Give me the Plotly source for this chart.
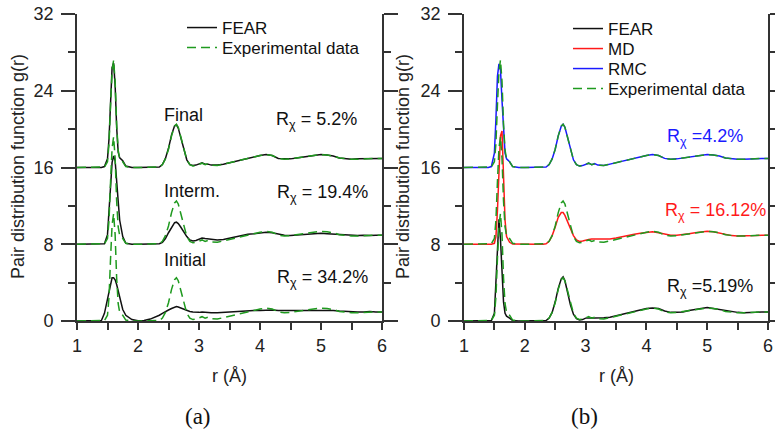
import plotly.graph_objects as go

# ---------------- data ----------------
R = [1.0, 1.40, 1.45, 1.50, 1.525, 1.55, 1.575, 1.60, 1.625, 1.65,
     1.675, 1.70, 1.75, 1.80, 1.90, 2.00, 2.10, 2.20, 2.30, 2.35,
     2.40, 2.45, 2.50, 2.55, 2.60, 2.63, 2.66, 2.70, 2.75, 2.80,
     2.85, 2.90, 2.95, 3.00, 3.05, 3.10, 3.15, 3.20, 3.30, 3.40,
     3.50, 3.60, 3.70, 3.80, 3.90, 4.00, 4.10, 4.20, 4.30, 4.40,
     4.50, 4.60, 4.70, 4.80, 4.90, 5.00, 5.10, 5.20, 5.30, 5.40,
     5.50, 5.60, 5.70, 5.80, 5.90, 6.00]

G_EXP = [0, 0, 0.05, 0.6, 2.5, 6.5, 10.0, 11.2, 9.0, 4.5,
         1.8, 0.9, 0.6, 0.1, 0, 0, 0, 0, 0, 0.05,
         0.3, 0.9, 1.9, 3.3, 4.3, 4.5, 4.2, 3.2, 1.8, 0.8,
         0.3, 0.15, 0.2, 0.35, 0.45, 0.3, 0.4, 0.25, 0.2, 0.35,
         0.5, 0.7, 0.85, 0.95, 1.1, 1.25, 1.35, 1.25, 0.95, 0.85,
         0.9, 1.0, 1.1, 1.2, 1.3, 1.35, 1.3, 1.2, 1.0, 0.9,
         0.85, 0.85, 0.9, 0.95, 0.95, 0.95]

G_FINAL = [0, 0, 0.1, 0.9, 3.0, 7.0, 10.4, 10.9, 8.6, 4.2,
           1.6, 1.0, 0.7, 0.15, 0, 0, 0, 0, 0, 0.05,
           0.3, 0.95, 2.0, 3.4, 4.35, 4.45, 4.1, 3.1, 1.75, 0.8,
           0.3, 0.2, 0.25, 0.4, 0.5, 0.35, 0.35, 0.25, 0.25, 0.35,
           0.5, 0.7, 0.85, 0.95, 1.1, 1.25, 1.35, 1.25, 0.95, 0.9,
           0.9, 1.0, 1.1, 1.2, 1.3, 1.35, 1.3, 1.2, 1.0, 0.9,
           0.85, 0.9, 0.9, 0.95, 0.95, 0.95]

G_INTERM = [0, 0, 0.05, 1.0, 3.0, 6.0, 8.5, 9.2, 8.7, 7.0,
            4.5, 2.5, 0.8, 0.1, 0, 0, 0, 0, 0, 0.05,
            0.2, 0.6, 1.2, 1.8, 2.25, 2.3, 2.15, 1.8, 1.3, 0.8,
            0.45, 0.35, 0.4, 0.55, 0.65, 0.6, 0.55, 0.5, 0.45, 0.5,
            0.65, 0.8, 0.95, 1.05, 1.1, 1.2, 1.25, 1.2, 1.05, 0.95,
            0.9, 0.95, 1.0, 1.05, 1.1, 1.15, 1.1, 1.05, 1.0, 0.95,
            0.9, 0.9, 0.95, 0.9, 0.95, 0.95]

G_INITIAL = [0, 0.05, 0.8, 2.3, 3.3, 4.1, 4.5, 4.5, 4.3, 3.8,
             3.1, 2.3, 1.2, 0.6, 0.15, 0.02, 0.05, 0.2, 0.45, 0.6,
             0.8, 1.0, 1.15, 1.3, 1.45, 1.5, 1.45, 1.35, 1.25, 1.1,
             1.0, 0.95, 0.9, 0.9, 0.95, 0.9, 0.9, 0.85, 0.85, 0.9,
             0.95, 0.95, 1.0, 1.05, 1.1, 1.1, 1.15, 1.15, 1.1, 1.1,
             1.1, 1.1, 1.1, 1.1, 1.1, 1.15, 1.15, 1.1, 1.05, 1.0,
             1.0, 0.95, 0.95, 1.0, 0.95, 0.95]

G_FEAR_B = [0, 0, 0.05, 0.8, 4.0, 8.5, 10.6, 8.5, 5.0, 2.0,
            0.8, 0.5, 0.3, 0.05, 0, 0, 0, 0, 0, 0.05,
            0.3, 0.9, 2.0, 3.4, 4.4, 4.6, 4.2, 3.1, 1.7, 0.7,
            0.25, 0.1, 0.15, 0.3, 0.35, 0.35, 0.3, 0.3, 0.35, 0.4,
            0.55, 0.75, 0.9, 1.0, 1.15, 1.3, 1.35, 1.3, 1.05, 0.9,
            0.9, 0.95, 1.1, 1.2, 1.3, 1.4, 1.3, 1.2, 1.05, 0.95,
            0.9, 0.85, 0.85, 0.9, 0.95, 0.95]

G_MD = [0, 0, 0, 0.1, 0.8, 3.5, 8.0, 11.3, 11.8, 7.0,
        2.5, 0.8, 0.2, 0.02, 0, 0, 0, 0, 0, 0.05,
        0.3, 0.9, 1.8, 2.8, 3.3, 3.3, 3.0, 2.4, 1.6, 0.9,
        0.45, 0.3, 0.35, 0.45, 0.5, 0.55, 0.55, 0.5, 0.5, 0.55,
        0.65, 0.8, 0.95, 1.05, 1.15, 1.25, 1.3, 1.2, 1.05, 0.95,
        0.95, 1.0, 1.1, 1.2, 1.3, 1.35, 1.3, 1.15, 1.0, 0.9,
        0.85, 0.85, 0.85, 0.9, 0.95, 0.95]

G_RMC = [0, 0, 0.1, 1.5, 5.0, 9.5, 10.8, 10.2, 7.0, 3.5,
         1.5, 0.9, 0.6, 0.1, 0, 0, 0, 0, 0, 0.05,
         0.3, 0.9, 1.9, 3.3, 4.3, 4.5, 4.2, 3.2, 1.8, 0.8,
         0.3, 0.15, 0.2, 0.35, 0.45, 0.3, 0.4, 0.25, 0.2, 0.35,
         0.5, 0.7, 0.85, 0.95, 1.1, 1.25, 1.35, 1.25, 0.95, 0.85,
         0.9, 1.0, 1.1, 1.2, 1.3, 1.35, 1.3, 1.2, 1.0, 0.9,
         0.85, 0.85, 0.9, 0.95, 0.95, 0.95]

OFFSETS = [0, 8, 16]
STAGE_LABELS = ["Initial", "Interm.", "Final"]
STAGE_R = ["34.2%", "19.4%", "5.2%"]
B_R = ["5.19%", "16.12%", "4.2%"]

Y_TICKS = [0, 8, 16, 24, 32]
X_TICKS = [1, 2, 3, 4, 5, 6]

# ---------------- styling ----------------
W, H = 775, 433
FONT = "Liberation Sans, Arial, sans-serif"
GREEN = "#1f9a1f"
BLACK = "#111111"
RED = "#ff1a1a"
BLUE = "#1a1aff"
AXC = "#333333"
LW = 1.5
DASH = "9px,5px"


def px_x(p):
    return p / W


def px_y(p):
    return 1 - p / H


left_dom = [px_x(77), px_x(382)]
right_dom = [px_x(464), px_x(768)]
y_dom = [px_y(321), px_y(14)]

fig = go.Figure()


def shift(vals, off):
    return [v + off for v in vals]


# ---- panel (a) ----
a_curves = [G_INITIAL, G_INTERM, G_FINAL]
for i, (vals, off) in enumerate(zip(a_curves, OFFSETS)):
    fig.add_trace(go.Scatter(x=R, y=shift(vals, off), mode="lines",
                             line=dict(color=BLACK, width=LW),
                             name="FEAR", legend="legend",
                             showlegend=(i == 2), xaxis="x", yaxis="y"))
for i, off in enumerate(OFFSETS):
    fig.add_trace(go.Scatter(x=R, y=shift(G_EXP, off), mode="lines",
                             line=dict(color=GREEN, width=LW, dash=DASH),
                             name="Experimental data", legend="legend2",
                             showlegend=(i == 2), xaxis="x", yaxis="y"))

# ---- panel (b) ----
b_specs = [(G_FEAR_B, "FEAR", BLACK, "legend3"),
           (G_MD, "MD", RED, "legend4"),
           (G_RMC, "RMC", BLUE, "legend5")]
for (vals, name, col, lg), off in zip(b_specs, OFFSETS):
    fig.add_trace(go.Scatter(x=R, y=shift(vals, off), mode="lines",
                             line=dict(color=col, width=LW), name=name,
                             legend=lg, xaxis="x2", yaxis="y2"))
for i, off in enumerate(OFFSETS):
    fig.add_trace(go.Scatter(x=R, y=shift(G_EXP, off), mode="lines",
                             line=dict(color=GREEN, width=LW, dash=DASH),
                             name="Experimental data", legend="legend6",
                             showlegend=(i == 0), xaxis="x2", yaxis="y2"))

tickfont = dict(family=FONT, size=18, color="#222222")


def xaxis_bottom(domain, anchor):
    return dict(domain=domain, anchor=anchor, range=[1, 6], tickvals=X_TICKS,
                ticks="outside", ticklen=7, tickwidth=1.5, tickcolor=AXC,
                minor=dict(dtick=0.5, ticks="outside", ticklen=7, tickwidth=1.5, tickcolor=AXC),
                showline=True, linecolor=AXC, linewidth=1.8, showgrid=False,
                zeroline=False, tickfont=tickfont, automargin=False)


def xaxis_top(over, anchor):
    return dict(overlaying=over, anchor=anchor, side="top", range=[1, 6],
                dtick=0.5, tick0=1, ticks="outside", ticklen=14, tickwidth=1.5,
                tickcolor=AXC, showticklabels=False, showline=True,
                linecolor=AXC, linewidth=1.8, showgrid=False, zeroline=False,
                automargin=False)


def yaxis(anchor):
    return dict(domain=y_dom, anchor=anchor, range=[0, 32], tickvals=Y_TICKS,
                ticks="outside", ticklen=14, tickwidth=1.5, tickcolor=AXC,
                minor=dict(dtick=4, ticks="outside", ticklen=7, tickwidth=1.5, tickcolor=AXC),
                mirror="ticks", showline=True, linecolor=AXC, linewidth=1.8,
                showgrid=False, zeroline=False, tickfont=tickfont,
                ticklabelstandoff=4, automargin=False)


def legend_at(xp, yp):
    return dict(x=px_x(xp), y=px_y(yp), xanchor="left", yanchor="middle",
                bgcolor="rgba(0,0,0,0)", borderwidth=0,
                font=dict(family=FONT, size=17, color=BLACK),
                tracegroupgap=0, itemwidth=30)


LEG_A_X = 182
LEG_B_X = 568
fig.update_layout(
    width=W, height=H, margin=dict(l=0, r=0, t=0, b=0, autoexpand=False),
    paper_bgcolor="white", plot_bgcolor="white",
    xaxis=xaxis_bottom(left_dom, "y"),
    xaxis2=xaxis_bottom(right_dom, "y2"),
    xaxis3=xaxis_top("x", "y"),
    xaxis4=xaxis_top("x2", "y2"),
    yaxis=yaxis("x"),
    yaxis2=yaxis("x2"),
    legend=legend_at(LEG_A_X, 28),
    legend2=legend_at(LEG_A_X, 48),
    legend3=legend_at(LEG_B_X, 29),
    legend4=legend_at(LEG_B_X, 49),
    legend5=legend_at(LEG_B_X, 69),
    legend6=legend_at(LEG_B_X, 89),
    showlegend=True,
)

ann = []
txt = dict(family=FONT, size=18, color=BLACK)
C = dict(xanchor="center", yanchor="middle", showarrow=False)
# stage labels in (a)
stage_pos = [(2.77, 6.4), (2.88, 13.5), (2.74, 21.5)]
for lab, (xx, yy) in zip(STAGE_LABELS, stage_pos):
    ann.append(dict(x=xx, y=yy, xref="x", yref="y", text=lab, font=txt, **C))
a_rpos = [(5.03, 4.4), (5.03, 13.3), (4.93, 20.9)]
for val, (xx, yy) in zip(STAGE_R, a_rpos):
    ann.append(dict(x=xx, y=yy, xref="x", yref="y", text="R<sub>χ</sub> = " + val,
                    font=txt, **C))
b_rpos = [(5.05, 3.5), (5.13, 11.4), (4.96, 19.1)]
b_cols = [BLACK, RED, BLUE]
b_fmt = ["R<sub>χ</sub> =", "R<sub>χ</sub> = ", "R<sub>χ</sub> ="]
for val, (xx, yy), col, f in zip(B_R, b_rpos, b_cols, b_fmt):
    ann.append(dict(x=xx, y=yy, xref="x2", yref="y2", text=f + val,
                    font=dict(family=FONT, size=18, color=col), **C))
# axis titles
for xc in [18, 403]:
    ann.append(dict(x=px_x(xc), y=px_y(167), xref="paper", yref="paper",
                    text="Pair distribution function g(r)", textangle=-90,
                    font=dict(family=FONT, size=18, color="#222222"), **C))
for xc in [230, 616]:
    ann.append(dict(x=px_x(xc), y=px_y(376), xref="paper", yref="paper",
                    text="r (Å)", font=dict(family=FONT, size=18, color="#222222"), **C))
# captions
for xc, lab in [(198, "(a)"), (584, "(b)")]:
    ann.append(dict(x=px_x(xc), y=px_y(416), xref="paper", yref="paper", text=lab,
                    font=dict(family="Liberation Serif, DejaVu Serif, serif", size=23, color=BLACK),
                    **C))
fig.update_layout(annotations=ann)

fig.write_html("out.html")
